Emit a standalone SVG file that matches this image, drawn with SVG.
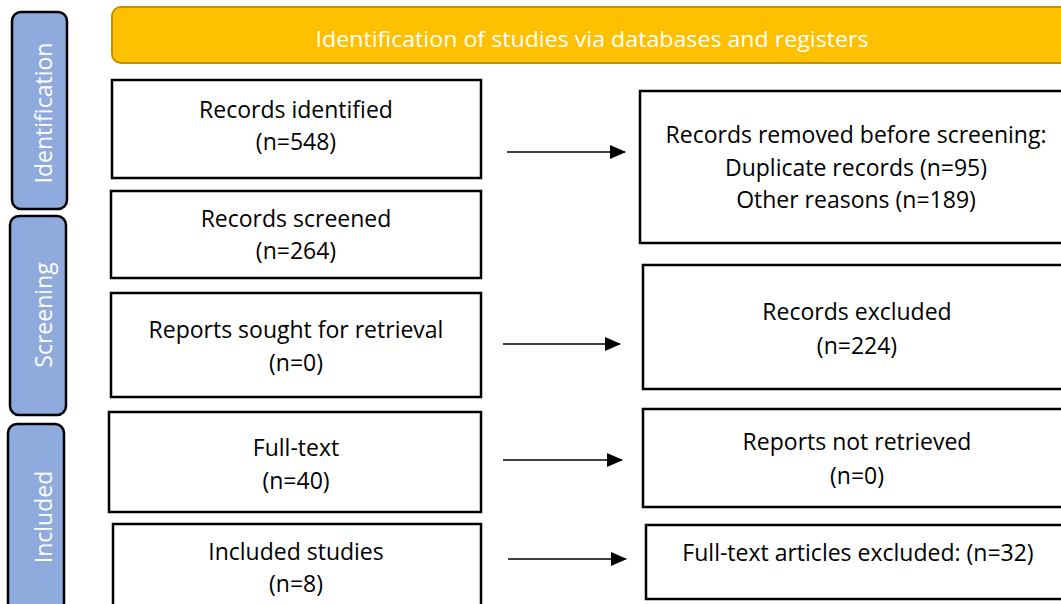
<svg xmlns="http://www.w3.org/2000/svg" width="1061" height="604" viewBox="0 0 1061 604">
  <defs>
    <marker id="arrowhead" markerWidth="16" markerHeight="14" refX="15" refY="7" orient="auto" markerUnits="userSpaceOnUse">
      <path d="M0,0 L16,7 L0,14 Z" fill="#000"/>
    </marker>
    <style>
      .phase { fill: #8FAADC; stroke: #000; stroke-width: 2.5; }
      .phase-label { fill: #fff; font-family: "Open Sans", "Liberation Sans", sans-serif; font-size: 23px; font-weight: 400; text-anchor: middle; }
      .banner { fill: #FFC000; stroke: #BF9000; stroke-width: 2; }
      .banner-label { fill: #fff; font-family: "Open Sans", "Liberation Sans", sans-serif; font-size: 22px; font-weight: 400; text-anchor: middle; }
      .box { fill: #fff; stroke: #000; stroke-width: 2.5; }
      .label { fill: #000; font-family: "Open Sans", "Liberation Sans", sans-serif; font-size: 23px; text-anchor: middle; }
      .link { stroke: #000; stroke-width: 1.6; fill: none; marker-end: url(#arrowhead); }
    </style>
  </defs>

  <rect width="1061" height="604" fill="#fff"/>

  <!-- phase bars -->
  <g id="phase-identification">
    <rect class="phase" x="12" y="12" width="55" height="197" rx="9"/>
    <text class="phase-label" transform="translate(52,113) rotate(-90)">Identification</text>
  </g>
  <g id="phase-screening">
    <rect class="phase" x="10" y="216" width="56" height="199" rx="9"/>
    <text class="phase-label" transform="translate(52,315) rotate(-90)">Screening</text>
  </g>
  <g id="phase-included">
    <rect class="phase" x="8" y="424" width="56" height="190" rx="9"/>
    <text class="phase-label" transform="translate(52,517) rotate(-90)">Included</text>
  </g>

  <!-- banner -->
  <g id="banner">
    <rect class="banner" x="112" y="7" width="970" height="56" rx="9"/>
    <text class="banner-label" x="592" y="47" textLength="553" lengthAdjust="spacingAndGlyphs">Identification of studies via databases and registers</text>
  </g>

  <!-- left column -->
  <g id="records-identified">
    <rect class="box" x="112" y="80" width="369" height="98"/>
    <text class="label" x="296" y="118">Records identified</text>
    <text class="label" x="296" y="150">(n=548)</text>
  </g>
  <g id="records-screened">
    <rect class="box" x="111" y="191" width="370" height="87"/>
    <text class="label" x="296" y="227">Records screened</text>
    <text class="label" x="296" y="259">(n=264)</text>
  </g>
  <g id="reports-sought">
    <rect class="box" x="111" y="293" width="370" height="104"/>
    <text class="label" x="296" y="338">Reports sought for retrieval</text>
    <text class="label" x="296" y="371">(n=0)</text>
  </g>
  <g id="full-text">
    <rect class="box" x="109" y="412" width="372" height="100"/>
    <text class="label" x="296" y="456">Full-text</text>
    <text class="label" x="296" y="489">(n=40)</text>
  </g>
  <g id="included-studies">
    <rect class="box" x="113" y="524" width="368" height="90"/>
    <text class="label" x="296" y="560">Included studies</text>
    <text class="label" x="296" y="592">(n=8)</text>
  </g>

  <!-- right column -->
  <g id="records-removed">
    <rect class="box" x="640" y="91" width="430" height="152"/>
    <text class="label" x="856" y="143">Records removed before screening:</text>
    <text class="label" x="856" y="176">Duplicate records (n=95)</text>
    <text class="label" x="856" y="208">Other reasons (n=189)</text>
  </g>
  <g id="records-excluded">
    <rect class="box" x="643" y="265" width="427" height="124"/>
    <text class="label" x="857" y="320">Records excluded</text>
    <text class="label" x="857" y="354">(n=224)</text>
  </g>
  <g id="reports-not-retrieved">
    <rect class="box" x="643" y="409" width="427" height="98"/>
    <text class="label" x="857" y="450">Reports not retrieved</text>
    <text class="label" x="857" y="484">(n=0)</text>
  </g>
  <g id="fulltext-excluded">
    <rect class="box" x="646" y="525" width="424" height="74"/>
    <text class="label" x="858" y="561">Full-text articles excluded: (n=32)</text>
  </g>

  <!-- connectors -->
  <g id="connectors">
    <line class="link" x1="507" y1="152" x2="625" y2="152"/>
    <line class="link" x1="503" y1="344" x2="620" y2="344"/>
    <line class="link" x1="503" y1="460" x2="622" y2="460"/>
    <line class="link" x1="508" y1="559" x2="626" y2="559"/>
  </g>
</svg>
